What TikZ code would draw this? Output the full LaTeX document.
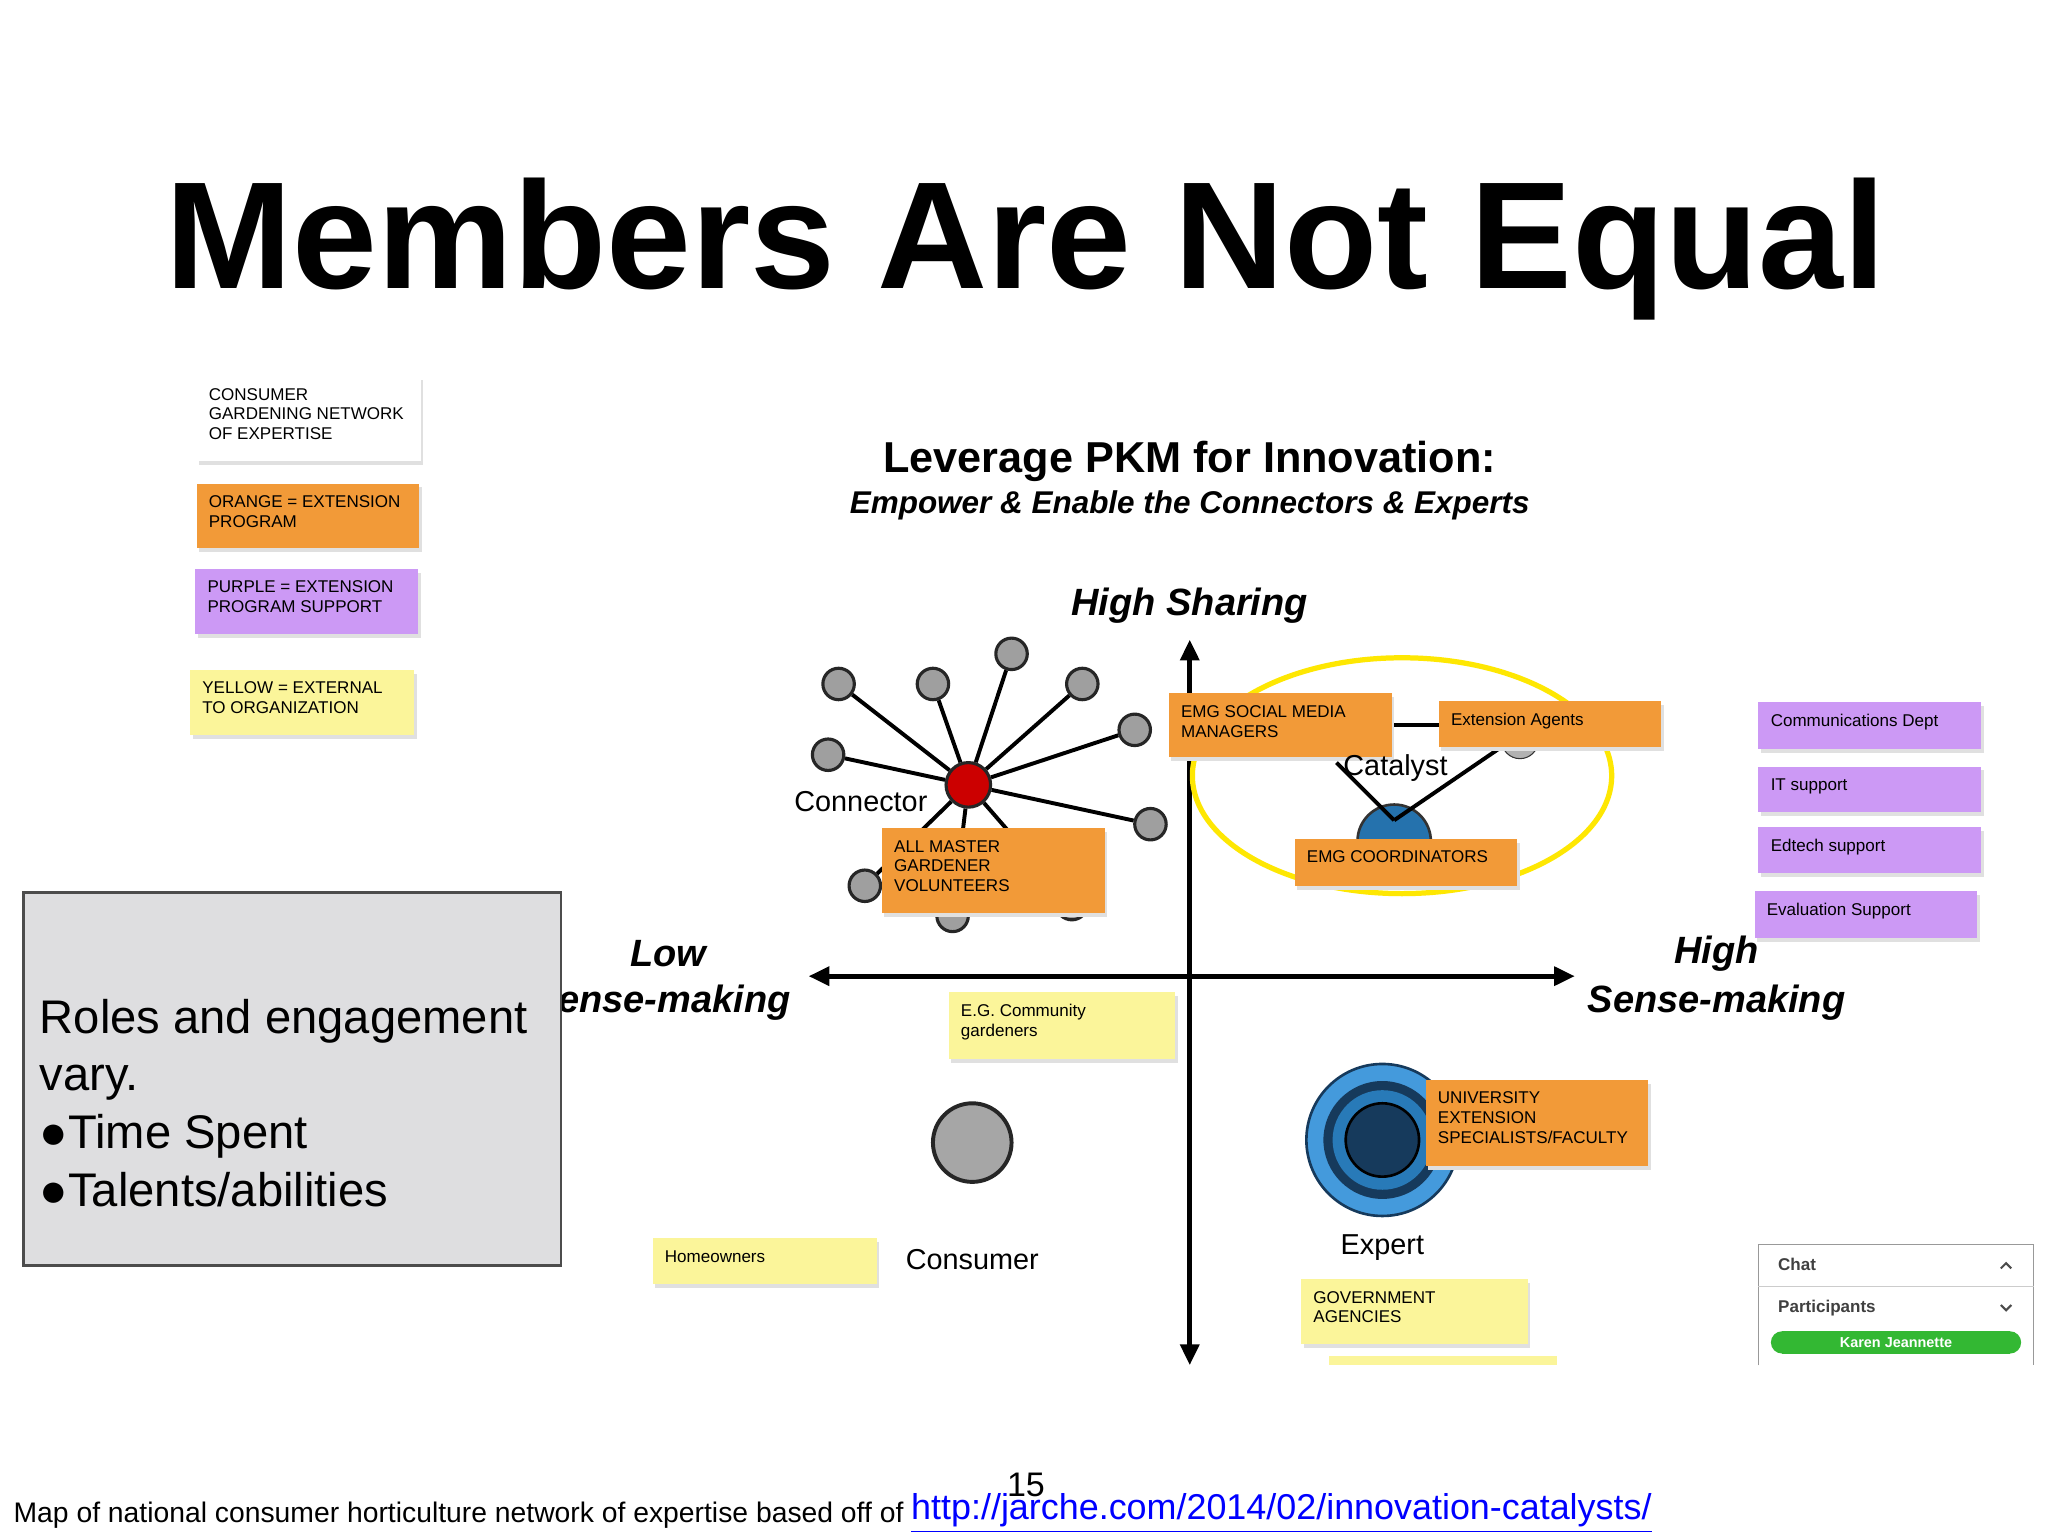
\documentclass[tikz,border=0pt]{standalone}
\usepackage{fontspec}
\setmainfont{Liberation Sans}
\usetikzlibrary{arrows.meta}
\definecolor{org}{HTML}{F29A38}
\definecolor{pur}{HTML}{CC99F5}
\definecolor{yel}{HTML}{FBF59A}
\definecolor{gbox}{HTML}{DEDEE0}
\definecolor{bl}{HTML}{2F8FD8}
\definecolor{nv}{HTML}{163A5C}
\begin{document}
\begin{tikzpicture}[x=0.5pt,y=-0.5pt,
  lbl/.style={font=\fontsize{6.5}{7.5}\selectfont,align=left,anchor=north west,inner sep=0pt},
  gnode/.style={circle,fill=gray!75,draw=black!85,line width=1.2pt,minimum size=12pt,inner sep=0pt},
  spoke/.style={line width=1.5pt},
  axis/.style={line width=2pt,-{Triangle[length=8pt,width=7pt]}},
  bi/.style={font=\bfseries\itshape}]
\useasboundingbox (0,0) rectangle (1563,1172);
\fill[white] (0,0) rectangle (1563,1172);
\node (title) at (783,190) {\fontsize{58.2}{60}\selectfont\bfseries Members Are Not Equal};
% legend
\newcommand{\sticky}[6]{\fill[black!12] (#1+2,#2+3) rectangle (#3+2,#4+3);
 \fill[#5] (#1,#2) rectangle (#3,#4);
 \node[lbl] at (#1+9,#2+9) {#6};}
\sticky{150}{287}{321}{352}{white}{CONSUMER\\GARDENING NETWORK\\OF EXPERTISE}
\sticky{150}{369}{320}{418}{org}{ORANGE = EXTENSION\\PROGRAM}
\sticky{149}{434}{319}{484}{pur}{PURPLE = EXTENSION\\PROGRAM SUPPORT}
\sticky{145}{511}{316}{561}{yel}{YELLOW = EXTERNAL\\TO ORGANIZATION}
% headings
\node (h1) at (908,352) {\fontsize{16.5}{18}\selectfont\bfseries Leverage PKM for Innovation:};
\node (h2) at (908,386) {\fontsize{12}{14}\selectfont\bfseries\itshape Empower \& Enable the Connectors \& Experts};
\node[bi] (hs) at (908,462) {\fontsize{14.5}{16}\selectfont High Sharing};
% axes
\coordinate (vt) at (908,488); \coordinate (vb) at (908,1042);
\coordinate (hl) at (617,745); \coordinate (hr) at (1202,745);
\draw[axis] (908,745) -- (vt); \draw[axis] (908,745) -- (vb);
\draw[axis] (908,745) -- (hl); \draw[axis] (908,745) -- (hr);
\node[bi] (low) at (510,728) {\fontsize{14.5}{16}\selectfont Low};
\node[bi] (lsm) at (505,765) {\fontsize{14.5}{16}\selectfont Sense-making};
\node[bi] (high) at (1310,728) {\fontsize{14.5}{16}\selectfont High};
\node[bi] (hsm) at (1310,765) {\fontsize{14.5}{16}\selectfont Sense-making};
% connector
\node[circle,fill=red!80!black,draw=black!85,line width=1.2pt,minimum size=17pt,inner sep=0pt] (hub) at (739,599) {};
\foreach \n/\p in {a/{640,522},b/{712,522},c/{772,499},d/{826,522},e/{866,557},f/{632,576},g/{878,629},h/{660,676},i/{727,699},j/{818,690}}{
  \node[gnode] (s\n) at (\p) {};
  \draw[spoke] (hub) -- (s\n);}
\node (conn) at (657,612) {\fontsize{11}{12}\selectfont Connector};
\sticky{673}{632}{843}{697}{org}{ALL MASTER\\GARDENER\\VOLUNTEERS}
% catalyst
\draw[yellow!90!orange,line width=2pt] (1070,592) ellipse [x radius=160, y radius=90];
\fill[bl!80!black,draw=black!80,line width=1pt] (1036,642) arc (180:360:28) -- cycle;
\coordinate (cb) at (1064,626);
\draw[spoke] (1020,582) -- (cb); \draw[spoke] (1146,570) -- (cb);
\draw[spoke] (1062,553) -- (1098,553);
\node[circle,draw=black!80,fill=gray!60,minimum size=14pt] (sm) at (1160,565) {};
\sticky{892}{529}{1062}{578}{org}{EMG SOCIAL MEDIA\\MANAGERS}
\sticky{1098}{535}{1268}{570}{org}{Extension Agents}
\node (cat) at (1065,586) {\fontsize{11}{12}\selectfont Catalyst};
\sticky{988}{640}{1158}{676}{org}{EMG COORDINATORS}
% purple
\sticky{1342}{536}{1512}{572}{pur}{Communications Dept}
\sticky{1342}{585}{1512}{620}{pur}{IT support}
\sticky{1342}{631}{1512}{666}{pur}{Edtech support}
\sticky{1339}{680}{1509}{716}{pur}{Evaluation Support}
% consumer
\sticky{724}{757}{897}{808}{yel}{E.G. Community\\gardeners}
\node[circle,fill=gray!70,draw=black!85,line width=1.5pt,minimum size=30pt] (cons) at (742,872) {};
\sticky{498}{945}{669}{980}{yel}{Homeowners}
\node (conl) at (742,961) {\fontsize{11}{12}\selectfont Consumer};
% expert
\fill[bl!90,draw=nv,line width=1pt] (1055,870) circle (58);
\fill[nv] (1055,870) circle (45);
\fill[bl!85!black] (1055,870) circle (38);
\fill[nv,draw=black,line width=1pt] (1055,870) circle (28);
\sticky{1088}{824}{1258}{890}{org}{UNIVERSITY\\EXTENSION\\SPECIALISTS/FACULTY}
\node (exp) at (1055,952) {\fontsize{11}{12}\selectfont Expert};
\sticky{993}{976}{1166}{1026}{yel}{GOVERNMENT\\AGENCIES}
\fill[yel] (1014,1035) rectangle (1188,1042);
% chat
\draw[black!40,fill=white] (1342,1042) -- (1342,950) -- (1552,950) -- (1552,1042);
\draw[black!20] (1342,982) -- (1552,982);
\node[anchor=west,font=\fontsize{6.5}{7}\selectfont\bfseries,text=black!75] (chat) at (1350,965) {Chat};
\node[anchor=west,font=\fontsize{6.5}{7}\selectfont\bfseries,text=black!75] (part) at (1350,998) {Participants};
\draw[black!70,line width=0.8pt] (1527,968) -- (1531,964) -- (1535,968);
\draw[black!70,line width=0.8pt] (1527,996) -- (1531,1000) -- (1535,996);
\fill[green!65!black!80] (1360,1016) rectangle (1534,1033);
\fill[green!65!black!80] (1360,1024.5) circle (8.5); \fill[green!65!black!80] (1534,1024.5) circle (8.5);
\node[font=\fontsize{5.5}{6}\selectfont\bfseries,text=white] (kj) at (1447,1024.5) {Karen Jeannette};
% gray box
\draw[black!70,fill=gbox,line width=1pt] (18,681) rectangle (428,966);
\node[anchor=north west,align=left,font=\fontsize{18}{22}\selectfont,inner sep=0pt] (roles) at (30,762) {Roles and engagement\\vary.\\●Time Spent\\●Talents/abilities};
% footer
\node[anchor=base west,inner sep=0pt,font=\fontsize{10.8}{12}\selectfont] (foot) at (10,1162) {Map of national consumer horticulture network of expertise based off of};
\node[anchor=base west,inner sep=0pt,font=\fontsize{13.7}{15}\selectfont,text=blue] (link) at (695,1160) {\underline{http://jarche.com/2014/02/innovation-catalysts/}};
\node[font=\fontsize{13}{15}\selectfont] (pg) at (783,1133) {15};
\end{tikzpicture}
\end{document}
